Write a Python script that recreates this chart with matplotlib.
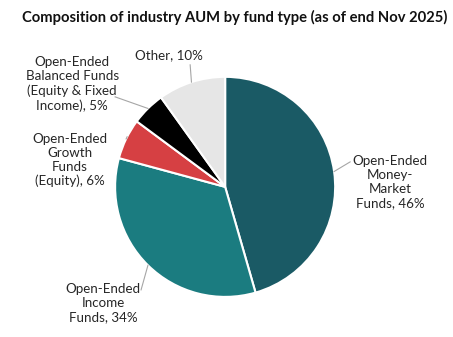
import numpy as np
import matplotlib.pyplot as plt

plt.rcParams['font.family'] = ['Lato', 'DejaVu Sans']

categories = ["Open-Ended\nMoney-\nMarket\nFunds", "Open-Ended\nIncome\nFunds",
              "Open-Ended\nGrowth\nFunds\n(Equity)",
              "Open-Ended\nBalanced Funds\n(Equity & Fixed\nIncome)", "Other"]
shares = [46, 34, 6, 5, 10]
colors = ["#1a5a65", "#1b7c80", "#d64043", "#000000", "#e6e6e6"]

fig = plt.figure(figsize=(4.53, 3.37), dpi=100)
ax = fig.add_axes([0.254, 0.119, 0.486, 0.653])
wedges, _ = ax.pie(shares, colors=colors, startangle=90, counterclock=False,
                   wedgeprops=dict(edgecolor="white", linewidth=1.5))
ax.set_xlim(-1, 1)
ax.set_ylim(-1, 1)
ax.set_aspect("equal")

# label layout: text centre and leader-line end
text_pos = [(1.5, 0.045), (-1.109, -1.055), (-1.41, 0.245), (-1.39, 0.936), (-0.51, 1.2)]
line_end = [(1.136, 0.227), (-0.764, -0.936), (-0.891, 0.455), (-1.0, 0.818), (-0.318, 1.109)]

for w, cat, val, tp, le in zip(wedges, categories, shares, text_pos, line_end):
    mid = np.deg2rad((w.theta1 + w.theta2) / 2)
    ex, ey = np.cos(mid), np.sin(mid)
    ax.plot([ex, le[0]], [ey, le[1]], color="#a6a6a6", lw=0.8, clip_on=False)
    ax.text(tp[0], tp[1], f"{cat}, {val}%", ha="center", va="center",
            fontsize=9.6, color="#262626", linespacing=1.2)

fig.text(0.517, 0.947, "Composition of industry AUM by fund type (as of end Nov 2025)",
         ha="center", va="center", fontsize=10.6, fontweight="bold", color="#111111")

fig.savefig("out.png", dpi=100)
